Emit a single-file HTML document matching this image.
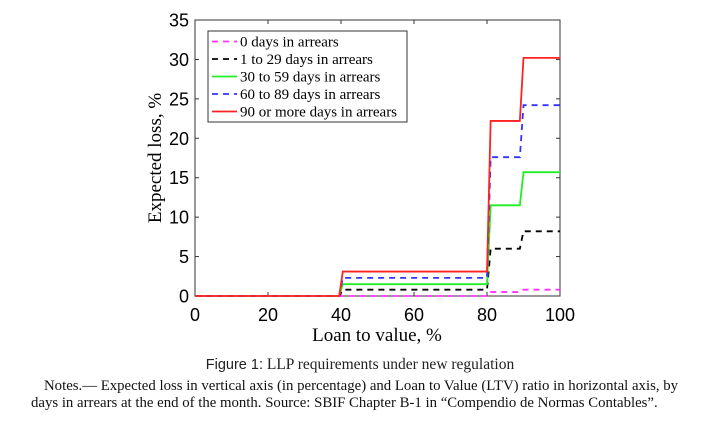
<!DOCTYPE html>
<html><head><meta charset="utf-8"><style>
body{margin:0;background:#fff;width:720px;height:423px;overflow:hidden;position:relative}
.cap{position:absolute;left:0;width:720px;text-align:center;top:356px;font:15.5px "Liberation Serif",serif;color:#222}
.cap b{font:400 14.5px "Liberation Sans",sans-serif}
.notes{position:absolute;left:31px;top:378px;width:662px;font:14.8px/17px "Liberation Serif",serif;color:#111;text-indent:13px}
</style></head><body>
<svg width="720" height="350" style="position:absolute;left:0;top:0" id="svg"></svg>
<div class="cap"><b>Figure 1:</b> LLP requirements under new regulation</div>
<div class="notes">Notes.— Expected loss in vertical axis (in percentage) and Loan to Value (LTV) ratio in horizontal axis, by days in arrears at the end of the month. Source: SBIF Chapter B-1 in “Compendio de Normas Contables”.</div>
<script>
const xKnots=[0,39.5,40.5,80,81,89,90,100];
const seriesNames=["0 days in arrears","1 to 29 days in arrears","30 to 59 days in arrears","60 to 89 days in arrears","90 or more days in arrears"];
const lvl40=[0,0.8,1.5,2.3,3.1];
const lvl80=[0.5,6.0,11.5,17.6,22.2];
const lvl90=[0.8,8.2,15.7,24.2,30.2];
const colors=["#ff33ff","#000","#22ee22","#3333ff","#ff2222"];
const dashed=[true,true,false,true,false];
const xTicks=[0,20,40,60,80,100];
const yTicks=[0,5,10,15,20,25,30,35];
const L=195,R=560,T=20,B=296;
const X=v=>L+(R-L)*v/100, Y=v=>B-(B-T)*v/35;
const svg=document.getElementById('svg');const NS='http://www.w3.org/2000/svg';
function mk(t,a,p){const e=document.createElementNS(NS,t);for(const k in a)e.setAttribute(k,a[k]);(p||svg).appendChild(e);return e;}
const frame=mk('rect',{x:L,y:T,width:R-L,height:B-T,fill:'none',stroke:'#333','stroke-width':1});

xTicks.forEach(v=>{const x=X(v);
 mk('line',{x1:x,x2:x,y1:B,y2:B-4,stroke:'#333'});mk('line',{x1:x,x2:x,y1:T,y2:T+4,stroke:'#333'});
 const t=mk('text',{x:x,y:321,'text-anchor':'middle','font-family':'Liberation Sans,sans-serif','font-size':18});t.textContent=v;
 });
yTicks.forEach(v=>{const y=Y(v);
 mk('line',{x1:L,x2:L+4,y1:y,y2:y,stroke:'#333'});mk('line',{x1:R,x2:R-4,y1:y,y2:y,stroke:'#333'});
 const t=mk('text',{x:189,y:y+6.5,'text-anchor':'end','font-family':'Liberation Sans,sans-serif','font-size':18});t.textContent=v;
 });
const xt=mk('text',{x:377,y:341,'text-anchor':'middle','font-family':'Liberation Serif,serif','font-size':19});xt.textContent='Loan to value, %';

const yt=mk('text',{x:0,y:0,transform:'translate(161,158) rotate(-90)','text-anchor':'middle','font-family':'Liberation Serif,serif','font-size':19});yt.textContent='Expected loss, %';

seriesNames.forEach((n,i)=>{
 const ys=[0,0,lvl40[i],lvl40[i],lvl80[i],lvl80[i],lvl90[i],lvl90[i]];
 const pts=xKnots.map((x,j)=>X(x)+','+Y(ys[j])).join(' ');
 const p=mk('polyline',{points:pts,fill:'none',stroke:colors[i],'stroke-width':1.8});
 if(dashed[i])p.setAttribute('stroke-dasharray','6,5');
 
});
const lg=mk('rect',{x:208,y:31,width:199,height:91,fill:'#fff',stroke:'#333'});

seriesNames.forEach((n,i)=>{const y=41.5+i*17.5;
 const l=mk('line',{x1:212,x2:237,y1:y,y2:y,stroke:colors[i],'stroke-width':1.8});
 if(dashed[i])l.setAttribute('stroke-dasharray','6,5');
 const t=mk('text',{x:240,y:y+5,'font-family':'Liberation Serif,serif','font-size':15});t.textContent=n;
 });
</script>
</body></html>
